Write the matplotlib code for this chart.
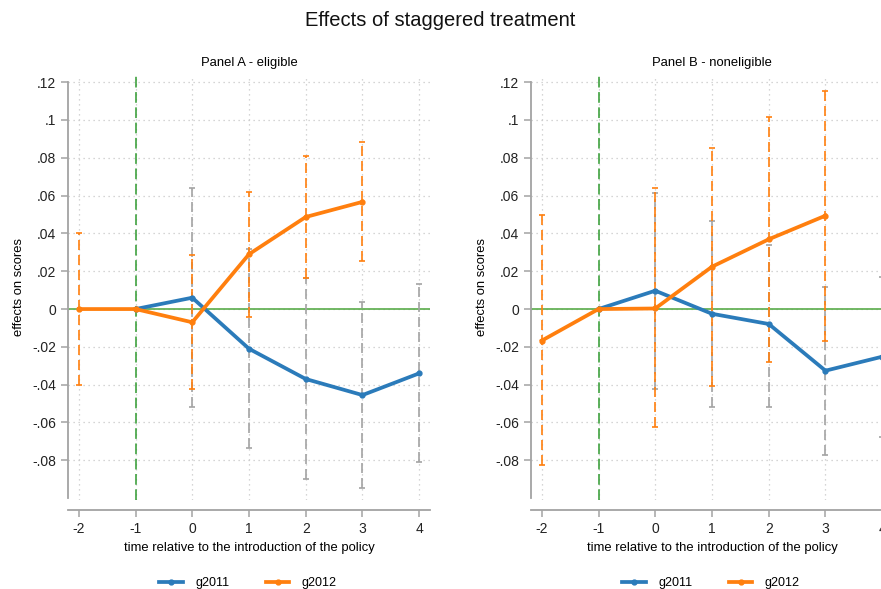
import numpy as np
import matplotlib.pyplot as plt

plt.rcParams['font.family'] = ['Liberation Sans', 'DejaVu Sans']

# event time
ticks_x = [-2, -1, 0, 1, 2, 3, 4]
ticks_y = [0.12, 0.10, 0.08, 0.06, 0.04, 0.02, 0.0, -0.02, -0.04, -0.06, -0.08]
ticks_y_labels = [".12", ".1", ".08", ".06", ".04", ".02", "0", "-.02", "-.04", "-.06", "-.08"]

# Panel A - eligible
a_g2011_x = [-1, 0, 1, 2, 3, 4]
a_g2011 = [0.0, 0.006, -0.021, -0.037, -0.0455, -0.034]
a_g2011_ci_x = [0, 1, 2, 3, 4]
a_g2011_hi = [0.064, 0.0317, 0.0162, 0.0039, 0.0132]
a_g2011_lo = [-0.0517, -0.0737, -0.090, -0.0949, -0.081]

a_g2012_x = [-2, -1, 0, 1, 2, 3]
a_g2012 = [0.0, 0.0, -0.007, 0.029, 0.0487, 0.0567]
a_g2012_ci_x = [-2, 0, 1, 2, 3]
a_g2012_hi = [0.040, 0.0286, 0.0617, 0.081, 0.0882]
a_g2012_lo = [-0.0402, -0.0425, -0.0042, 0.0166, 0.0256]

# Panel B - noneligible
b_g2011_x = [-1, 0, 1, 2, 3, 4]
b_g2011 = [0.0, 0.0097, -0.0025, -0.0079, -0.0326, -0.0252]
b_g2011_ci_x = [0, 1, 2, 3, 4]
b_g2011_hi = [0.0612, 0.0467, 0.034, 0.0118, 0.0171]
b_g2011_lo = [-0.0425, -0.0517, -0.0517, -0.0772, -0.0676]

b_g2012_x = [-2, -1, 0, 1, 2, 3]
b_g2012 = [-0.0167, 0.0, 0.0003, 0.0224, 0.0369, 0.0494]
b_g2012_ci_x = [-2, 0, 1, 2, 3]
b_g2012_hi = [0.0497, 0.0638, 0.0853, 0.1018, 0.1153]
b_g2012_lo = [-0.0825, -0.0626, -0.0407, -0.0279, -0.0168]

azul = "#2b7bba"
naranja = "#ff7f0e"
gris = "#a3a3a3"
verde = "#5aac4a"
verde_osc = "#2f9a2f"

W, H = 881, 589
fig = plt.figure(figsize=(W / 100, H / 100), dpi=100)


def panel(left_px, titulo, datos):
    ax = fig.add_axes([left_px / W, (H - 500) / H, 362 / W, 425 / H])
    ax.set_xlim(-2.19, 4.19)
    ax.set_ylim(-0.101, 0.1238)

    ax.grid(True, color="#c8c8c8", linestyle=(0, (1, 3)), linewidth=0.9)
    ax.set_axisbelow(True)

    ax.axhline(0, color=verde, linewidth=1.2, zorder=2)
    ax.axvline(-1, color=verde_osc, linewidth=1.1, linestyle=(0, (7, 3)), zorder=2)

    (x1, y1, cx1, hi1, lo1), (x2, y2, cx2, hi2, lo2) = datos

    # intervalos de confianza
    ax.vlines(cx1, lo1, hi1, colors=gris, linestyles=(0, (6, 3)), linewidth=1.2, zorder=3)
    ax.plot(cx1, hi1, marker="_", ls="none", color=gris, ms=5, mew=1.2, zorder=3)
    ax.plot(cx1, lo1, marker="_", ls="none", color=gris, ms=5, mew=1.2, zorder=3)
    ax.vlines(cx2, lo2, hi2, colors=naranja, linestyles=(0, (6, 3)), linewidth=1.2, zorder=3)
    ax.plot(cx2, hi2, marker="_", ls="none", color=naranja, ms=5, mew=1.2, zorder=3)
    ax.plot(cx2, lo2, marker="_", ls="none", color=naranja, ms=5, mew=1.2, zorder=3)

    l1, = ax.plot(x1, y1, color=azul, lw=2.7, marker="o", ms=3.5, zorder=4, label="g2011")
    l2, = ax.plot(x2, y2, color=naranja, lw=2.7, marker="o", ms=3.5, zorder=5, label="g2012")

    for s in ["top", "right"]:
        ax.spines[s].set_visible(False)
    ax.spines["left"].set_color(gris)
    ax.spines["bottom"].set_color(gris)
    ax.spines["left"].set_linewidth(1.3)
    ax.spines["bottom"].set_linewidth(1.3)
    ax.spines["bottom"].set_position(("outward", 7))
    ax.spines["left"].set_bounds(-0.1, 0.12)

    ax.set_xticks(ticks_x)
    ax.set_xticklabels([str(t) for t in ticks_x])
    ax.set_yticks(ticks_y)
    ax.set_yticklabels(ticks_y_labels)
    ax.tick_params(axis="both", colors=gris, labelcolor="#222222", labelsize=10,
                   length=5, width=1.1)
    ax.tick_params(axis="y", pad=3.5)
    ax.tick_params(axis="x", pad=3.5)

    ax.set_title(titulo, fontsize=9.4, pad=6.5)
    ax.set_xlabel("time relative to the introduction of the policy", fontsize=9.4, labelpad=4.5)
    ax.set_ylabel("effects on scores", fontsize=9.4, labelpad=5)

    fig.legend(handles=[l1, l2], loc="center", ncol=2, frameon=False,
               bbox_to_anchor=((left_px + 180) / W, 1 - 583 / H),
               fontsize=9, handlelength=1.9, columnspacing=2.9, handletextpad=1.0)
    return ax


panel(68, "Panel A - eligible",
      [(a_g2011_x, a_g2011, a_g2011_ci_x, a_g2011_hi, a_g2011_lo),
       (a_g2012_x, a_g2012, a_g2012_ci_x, a_g2012_hi, a_g2012_lo)])
panel(531, "Panel B - noneligible",
      [(b_g2011_x, b_g2011, b_g2011_ci_x, b_g2011_hi, b_g2011_lo),
       (b_g2012_x, b_g2012, b_g2012_ci_x, b_g2012_hi, b_g2012_lo)])

fig.text(440 / W, 1 - 20 / H, "Effects of staggered treatment", ha="center", va="center",
         fontsize=14.5, color="#111111")

fig.savefig("out.png", dpi=100)
